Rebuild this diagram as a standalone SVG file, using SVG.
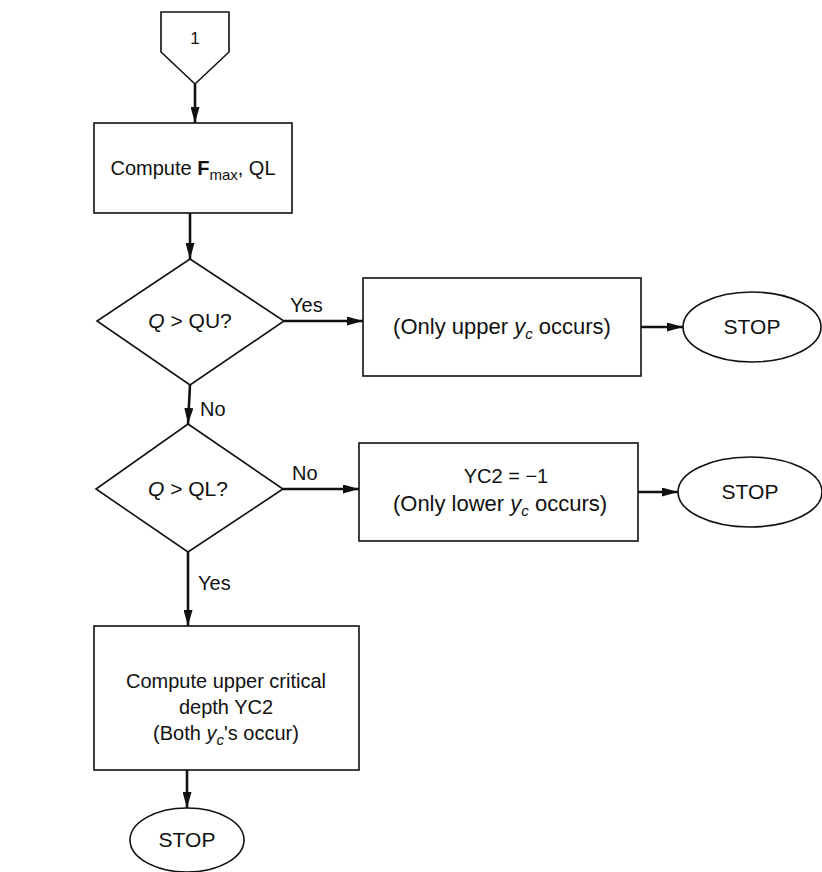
<svg xmlns="http://www.w3.org/2000/svg" width="822" height="872" viewBox="0 0 822 872">
<defs>
<style>
.shape{fill:none;stroke:#111;stroke-width:1.6}
.conn{fill:none;stroke:#111;stroke-width:2.6}
text{font-family:"Liberation Sans",Arial,sans-serif;font-size:20px;fill:#111;text-anchor:middle}
.lbl{text-anchor:start}
.it{font-style:italic}
.sub{font-size:15px}
.wide{font-size:22px}
.stop{font-size:21px}
</style>
<marker id="ah" viewBox="0 0 16 9" refX="16" refY="4.5" markerWidth="16" markerHeight="9" markerUnits="userSpaceOnUse" orient="auto">
<path d="M0,0 L16,4.5 L0,9 Z" fill="#111"/>
</marker>
</defs>
<rect width="822" height="872" fill="#fff"/>
<g id="connector1">
<polygon class="shape" points="161,12 229,12 229,52 195,84 161,52"/>
<text x="195" y="44" style="font-size:17px">1</text>
</g>
<g id="compute1">
<rect class="shape" x="94" y="123" width="198" height="90"/>
<text x="193" y="175">Compute <tspan font-weight="bold">F</tspan><tspan class="sub" dy="5">max</tspan><tspan dy="-5">, QL</tspan></text>
</g>
<g id="decision1">
<polygon class="shape" points="190,259 284,321 190,385 97,321"/>
<text x="190" y="328" class="stop"><tspan class="it">Q</tspan> &gt; QU?</text>
</g>
<g id="upper">
<rect class="shape" x="363" y="278" width="278" height="98"/>
<text x="502" y="334" class="wide">(Only upper <tspan class="it">y</tspan><tspan class="sub it" dy="5">c</tspan><tspan dy="-5"> occurs)</tspan></text>
</g>
<g id="stop1">
<ellipse class="shape" cx="752" cy="327" rx="69" ry="35"/>
<text x="752" y="334" class="stop">STOP</text>
</g>
<g id="decision2">
<polygon class="shape" points="188,424 283,489 188,552 96,489"/>
<text x="188" y="496" class="stop"><tspan class="it">Q</tspan> &gt; QL?</text>
</g>
<g id="lower">
<rect class="shape" x="359" y="443" width="279" height="98"/>
<text x="506" y="483">YC2 = −1</text>
<text x="500" y="511" class="wide">(Only lower <tspan class="it">y</tspan><tspan class="sub it" dy="5">c</tspan><tspan dy="-5"> occurs)</tspan></text>
</g>
<g id="stop2">
<ellipse class="shape" cx="750" cy="492" rx="72" ry="35"/>
<text x="750" y="499" class="stop">STOP</text>
</g>
<g id="compute2">
<rect class="shape" x="94" y="626" width="265" height="144"/>
<text x="226" y="688">Compute upper critical</text>
<text x="226" y="714">depth YC2</text>
<text x="226" y="740">(Both <tspan class="it">y</tspan><tspan class="sub it" dy="5">c</tspan><tspan dy="-5">'s occur)</tspan></text>
</g>
<g id="stop3">
<ellipse class="shape" cx="187" cy="840" rx="57" ry="32"/>
<text x="187" y="847" class="stop">STOP</text>
</g>
<g id="connectors">
<line class="conn" x1="195" y1="84" x2="195" y2="123" marker-end="url(#ah)"/>
<line class="conn" x1="190" y1="213" x2="190" y2="259" marker-end="url(#ah)"/>
<line class="conn" x1="284" y1="321" x2="363" y2="321" marker-end="url(#ah)"/>
<line class="conn" x1="641" y1="327" x2="683" y2="327" marker-end="url(#ah)"/>
<line class="conn" x1="190" y1="385" x2="188" y2="424" marker-end="url(#ah)"/>
<line class="conn" x1="283" y1="489" x2="359" y2="489" marker-end="url(#ah)"/>
<line class="conn" x1="638" y1="492" x2="678" y2="492" marker-end="url(#ah)"/>
<line class="conn" x1="188" y1="552" x2="188" y2="626" marker-end="url(#ah)"/>
<line class="conn" x1="187" y1="770" x2="187" y2="808" marker-end="url(#ah)"/>
<text class="lbl" x="290" y="312">Yes</text>
<text class="lbl" x="200" y="416">No</text>
<text class="lbl" x="292" y="480">No</text>
<text class="lbl" x="198" y="590">Yes</text>
</g>
</svg>
